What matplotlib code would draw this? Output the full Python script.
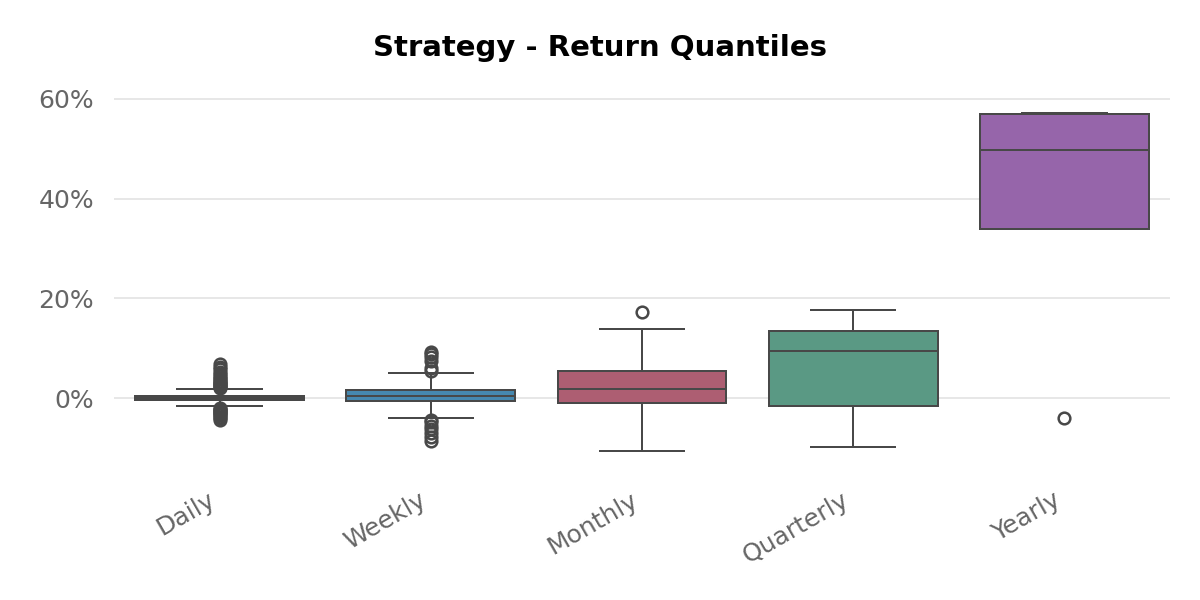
import colorsys
import matplotlib
matplotlib.use("Agg")
import matplotlib.pyplot as plt
import matplotlib.colors as mcolors

# ---- data (percent returns) ----
categories = ["Daily", "Weekly", "Monthly", "Quarterly", "Yearly"]
q1 = [-0.3, -0.6, -1.0, -1.6, 34.0]
median = [0.1, 0.4, 1.8, 9.4, 49.8]
q3 = [0.5, 1.6, 5.4, 13.4, 57.0]
whisker_low = [-1.6, -4.0, -10.6, -9.8, 34.0]
whisker_high = [1.8, 5.0, 13.8, 17.6, 57.2]
daily_fliers = [2.0, 2.2, 2.4, 2.6, 2.8, 3.0, 3.2, 3.5, 3.8, 4.1, 4.4, 4.8, 5.2, 5.8, 6.3, 6.8,
                -1.9, -2.1, -2.3, -2.5, -2.7, -2.9, -3.1, -3.4, -3.7, -4.0, -4.3]
weekly_fliers = [5.5, 6.0, 7.5, 8.2, 8.8, 9.3, -4.3, -4.8, -5.5, -6.2, -7.0, -7.8, -8.5]
monthly_fliers = [17.3]
quarterly_fliers = []
yearly_fliers = [-4.0]
fliers = [daily_fliers, weekly_fliers, monthly_fliers, quarterly_fliers, yearly_fliers]
yticks = [0, 20, 40, 60]

base_colors = ["#FEDD78", "#348DC1", "#BA516B", "#4FA487", "#9B59B6"]


def desaturate(c, prop=0.75):
    r, g, b = mcolors.to_rgb(c)
    h, l, s = colorsys.rgb_to_hls(r, g, b)
    return colorsys.hls_to_rgb(h, l, s * prop)


colors = [desaturate(c) for c in base_colors]
linecolor = "#484848"

fig = plt.figure(figsize=(10, 5), dpi=120)
ax = fig.add_axes([0.095, 0.22, 0.88, 0.62])

stats = []
for i, name in enumerate(categories):
    stats.append(dict(label=name, q1=q1[i], med=median[i], q3=q3[i],
                      whislo=whisker_low[i], whishi=whisker_high[i], fliers=fliers[i]))

lw = 1.2
bp = ax.bxp(stats, positions=range(len(categories)), widths=0.8, patch_artist=True,
            showfliers=True,
            boxprops=dict(edgecolor=linecolor, linewidth=lw),
            medianprops=dict(color=linecolor, linewidth=lw),
            whiskerprops=dict(color=linecolor, linewidth=lw),
            capprops=dict(color=linecolor, linewidth=lw),
            capwidths=0.4,
            flierprops=dict(marker="o", markerfacecolor="none", markeredgecolor=linecolor,
                            markersize=7, markeredgewidth=1.5))
for patch, c in zip(bp["boxes"], colors):
    patch.set_facecolor(c)

ax.set_xlim(-0.5, len(categories) - 0.5)
ax.set_yticks(yticks)
ax.set_yticklabels([f"{v}%" for v in yticks])
ax.set_ylim(-14.0, 60.6)
ax.yaxis.grid(True, color="#e3e3e3", linewidth=1)
ax.set_axisbelow(True)
for s in ax.spines.values():
    s.set_visible(False)
ax.tick_params(axis="both", length=0, labelsize=15, labelcolor="#666666")
ax.tick_params(axis="y", pad=12)
ax.tick_params(axis="x", pad=12)
ax.set_xticks(range(len(categories)))
ax.set_xticklabels(categories, rotation=30, ha="right")
fig.suptitle("Strategy - Return Quantiles", fontsize=17.5, fontweight="bold",
             x=0.5, y=0.92, va="center")

fig.savefig("out.png", dpi=120, facecolor="white")
